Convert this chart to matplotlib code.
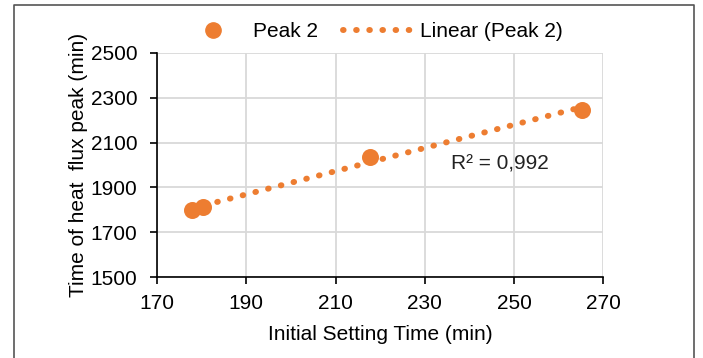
import numpy as np
import matplotlib
matplotlib.use("Agg")
import matplotlib.pyplot as plt
from matplotlib.lines import Line2D

plt.rcParams['font.family'] = ['Liberation Sans', 'DejaVu Sans']

# data
setting_time = [177.8, 180.3, 217.8, 265.1]
peak_time = [1799, 1812, 2038, 2247]
r2_label = "R² = 0,992"

orange = "#ED7D31"
fs = 15

fig = plt.figure(figsize=(7.03, 3.58), dpi=100)
ax = fig.add_axes([0.2233, 0.226, 0.635, 0.626])

# trend line from a least squares fit
k, b = np.polyfit(setting_time, peak_time, 1)
xs = np.array([min(setting_time), max(setting_time)])
dots = (0, (0.1, 2.1))
ax.plot(xs, k * xs + b, color=orange, linestyle=dots, linewidth=4.3,
        dash_capstyle='round', zorder=2)
ax.scatter(setting_time, peak_time, s=150, color=orange, zorder=3, linewidths=0)

ax.set_xlim(170, 270)
ax.set_ylim(1500, 2500)
ax.set_xticks(range(170, 271, 20))
ax.set_yticks(range(1500, 2501, 200))
ax.grid(True, color="#d9d9d9", linewidth=1.3)
ax.set_axisbelow(True)
for s in ['top', 'right']:
    ax.spines[s].set_visible(False)
for s in ['left', 'bottom']:
    ax.spines[s].set_color('black')
    ax.spines[s].set_linewidth(1.2)
ax.tick_params(direction='out', length=5, width=1.2, labelsize=fs, colors='black')
ax.tick_params(axis='x', pad=7)
ax.tick_params(axis='y', pad=9)

ax.set_xlabel("Initial Setting Time (min)", fontsize=fs, labelpad=9)
ax.set_ylabel("Time of heat  flux peak (min)", fontsize=fs, labelpad=2)

ax.text(235.8, 1978, r2_label, fontsize=fs, color="#222222")

handles = [
    Line2D([], [], marker='o', color=orange, linestyle='none', markersize=11),
    Line2D([], [], color=orange, linestyle=dots, linewidth=4.3,
           dash_capstyle='round'),
]
fig.legend(handles, ["Peak 2", "Linear (Peak 2)"], loc='center', bbox_to_anchor=(0.525, 0.912),
           ncol=2, frameon=False, fontsize=fs, handlelength=3.6, columnspacing=1.2,
           handletextpad=0.1)

# outer frame
fig.add_artist(Line2D([0.02, 0.02, 0.987, 0.987], [0.0, 0.986, 0.986, 0.0],
                      transform=fig.transFigure, color="#555555", linewidth=1.2))

fig.savefig("out.png", dpi=100)
